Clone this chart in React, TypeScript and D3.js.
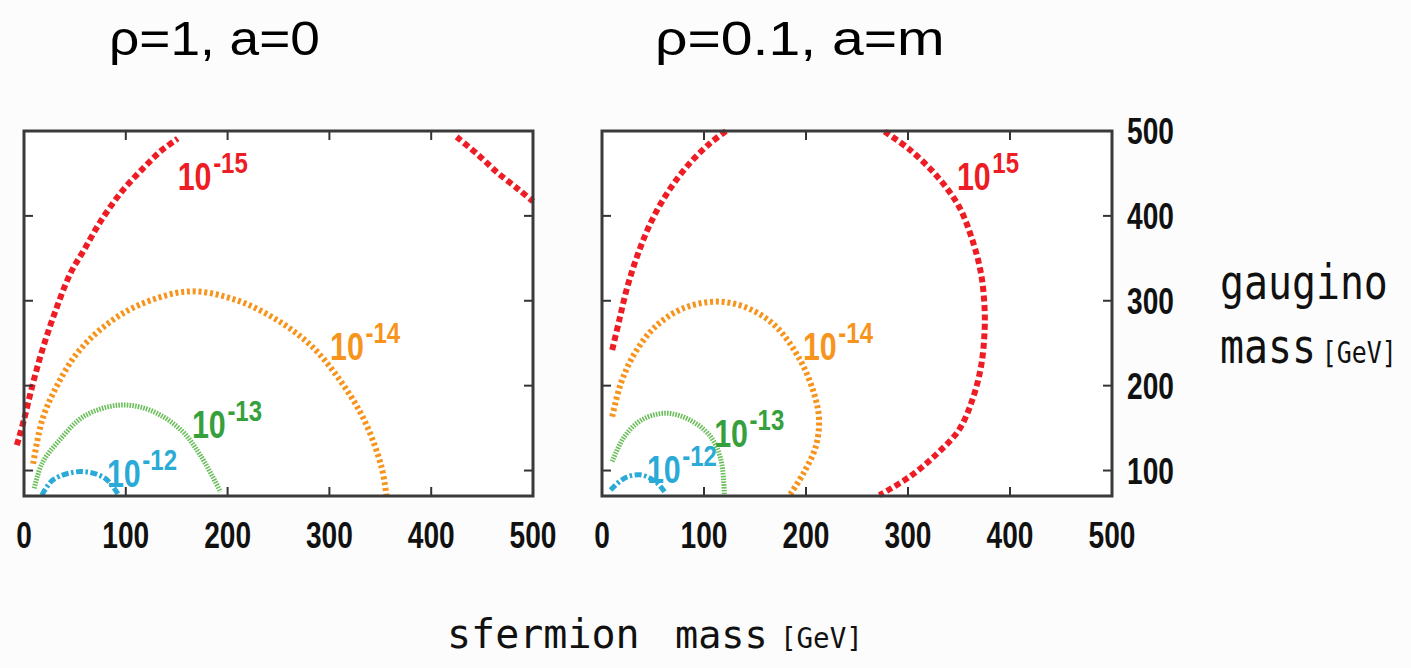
import React from 'react'
import * as d3 from 'd3'

// contour points [sfermion, gaugino] in GeV
const leftRed1 = [[-7, 130], [0, 160], [8, 199], [18, 242], [30, 285], [45.5, 332], [59, 360], [76, 395], [96, 428.6], [117, 456], [134, 476], [151, 491]]
const leftRed2 = [[425, 493], [446, 472], [466, 450], [486, 431], [500, 417]]
const leftOrange = [[9, 108], [18, 160], [32, 199], [52, 238], [79, 270], [113, 295], [162, 311], [208, 301], [249, 277], [283, 246], [310, 207], [334, 160], [351, 105], [356, 71]]
const leftGreen = [[10, 79], [18, 109], [35, 136], [59, 164], [93, 177], [123, 171.5], [154, 148], [174, 116.5], [193, 75]]
const leftCyan = [[17.6, 71], [28.5, 89], [55.6, 98.8], [79.4, 91], [93, 71]]

const rightRed1 = [[10, 242], [17, 277.5], [25, 317], [35.5, 356], [49, 395], [66, 430.6], [86, 462], [106, 485.6], [121.6, 500]]
const rightRed2 = [[277, 499.5], [302, 477.7], [329, 446], [350, 411], [363, 372], [371.6, 332], [375, 293], [375, 262], [371.6, 222.5], [363, 183], [350, 148], [329, 120.4], [302, 93], [272, 71]]
const rightOrange = [[10, 163.6], [18.6, 203], [32, 238], [52.4, 269.6], [79.4, 291], [113, 299], [143.6, 291], [170.6, 269.6], [194.3, 230], [207.8, 191], [212.8, 160], [209.5, 128], [197.6, 97], [184, 71]]
const rightGreen = [[10, 110.6], [22, 140], [39, 159.7], [62.5, 167.5], [86, 159.7], [106.4, 140], [116.6, 112.6], [120, 71]]
const rightCyan = [[8.4, 77], [22, 91], [37.2, 95], [52.4, 87], [62.5, 73]]

// labels: where "10" starts (sfermion, gaugino) and the exponent
const leftLabels = [
  {x: 151, y: 431, exp: '-15', c: 'red'},
  {x: 300.6, y: 230.6, exp: '-14', c: 'orange'},
  {x: 165, y: 138.6, exp: '-13', c: 'green'},
  {x: 81.5, y: 80.8, exp: '-12', c: 'cyan'}
]
const rightLabels = [
  {x: 348, y: 431, exp: '15', c: 'red'},
  {x: 197, y: 230.6, exp: '-14', c: 'orange'},
  {x: 110, y: 128, exp: '-13', c: 'green'},
  {x: 44, y: 85.5, exp: '-12', c: 'cyan'}
]

const xTicks = [0, 100, 200, 300, 400, 500]
const yTicks = [100, 200, 300, 400, 500]

const colors = {red: '#ee1c24', orange: '#f7941d', green: '#35a03c', cyan: '#2aaad6'}

const styles = {
  red: {stroke: '#ee1c24', width: 6, dash: '6 3.5'},
  orange: {stroke: '#f7941d', width: 6, dash: '3 2.8'},
  green: {stroke: '#6cbf5c', width: 5, dash: '1.6 1.2'},
  cyan: {stroke: '#2aaad6', width: 5, dash: '7 2.5 2.5 2.5'}
}

const num = {fontFamily: 'Liberation Sans, Arial', fontWeight: 'bold'}

function Panel({x0, x1, curves, labels}) {
  const x = d3.scaleLinear().domain([0, 500]).range([x0, x1])
  const y = d3.scaleLinear().domain([70, 500]).range([496, 131])
  const line = d3.line().x(d => x(d[0])).y(d => y(d[1])).curve(d3.curveCatmullRom)
  const inner = [100, 200, 300, 400]
  return (
    <g>
      <rect x={x0} y={y(500)} width={x1 - x0} height={y(70) - y(500)} fill="#fff" />
      {curves.map((c, i) => {
        const s = styles[c.c]
        return <path key={i} d={line(c.pts)} fill="none" stroke={s.stroke}
          strokeWidth={s.width} strokeDasharray={s.dash} />
      })}
      {inner.map(t => (
        <g key={'t' + t} stroke="#333" strokeWidth={2}>
          <line x1={x(t)} x2={x(t)} y1={y(70)} y2={y(70) - 9} />
          <line x1={x(t)} x2={x(t)} y1={y(500)} y2={y(500) + 9} />
          <line x1={x0} x2={x0 + 9} y1={y(t)} y2={y(t)} />
          <line x1={x1} x2={x1 - 9} y1={y(t)} y2={y(t)} />
        </g>
      ))}
      <rect x={x0} y={y(500)} width={x1 - x0} height={y(70) - y(500)} fill="none" stroke="#3a3a3a" strokeWidth={3} />
      {xTicks.map(t => (
        <text key={'x' + t} transform={`translate(${x(t)},548) scale(0.76,1)`} textAnchor="middle"
          style={num} fontSize={37} fill="#111">{t}</text>
      ))}
      {labels.map((l, i) => (
        <text key={'l' + i} transform={`translate(${x(l.x)},${y(l.y)}) scale(0.8,1)`}
          style={num} fill={colors[l.c]}>
          <tspan fontSize={38}>10</tspan>
          <tspan fontSize={30} dx={2} dy={-17}>{l.exp}</tspan>
        </text>
      ))}
    </g>
  )
}

export default function App() {
  const yr = d3.scaleLinear().domain([70, 500]).range([496, 131])
  return (
    <svg width={1411} height={668} style={{position: 'absolute', left: 0, top: 0}}>
      <rect width={1411} height={668} fill="#fcfcfc" />
      <g fontFamily="Liberation Sans, Arial" fontSize={48} fill="#000">
        <text transform="translate(109,55) scale(1.11,1)">ρ=1, a=0</text>
        <text transform="translate(655,55) scale(1.19,1)">ρ=0.1, a=m</text>
      </g>
      <Panel x0={24} x1={533}
        curves={[
          {pts: leftRed1, c: 'red'}, {pts: leftRed2, c: 'red'}, {pts: leftOrange, c: 'orange'},
          {pts: leftGreen, c: 'green'}, {pts: leftCyan, c: 'cyan'}
        ]}
        labels={leftLabels} />
      <Panel x0={602} x1={1112}
        curves={[
          {pts: rightRed1, c: 'red'}, {pts: rightRed2, c: 'red'}, {pts: rightOrange, c: 'orange'},
          {pts: rightGreen, c: 'green'}, {pts: rightCyan, c: 'cyan'}
        ]}
        labels={rightLabels} />
      {yTicks.map(t => (
        <text key={t} transform={`translate(1127,${yr(t) + 13}) scale(0.76,1)`}
          style={num} fontSize={37} fill="#111">{t}</text>
      ))}
      <g fontFamily="DejaVu Sans Mono" fill="#111">
        <text transform="translate(1220,299) scale(0.83,1)" fontSize={48}>gaugino</text>
        <text transform="translate(1220,363) scale(0.83,1)" fontSize={48}>
          mass<tspan fontSize={30} dx={7}>[GeV]</tspan>
        </text>
        <text x={447} y={648} fontSize={40}>sfermion</text>
        <text x={675} y={648} fontSize={38.5}>mass</text>
        <text x={780} y={648} fontSize={27.5}>[GeV]</text>
      </g>
    </svg>
  )
}
